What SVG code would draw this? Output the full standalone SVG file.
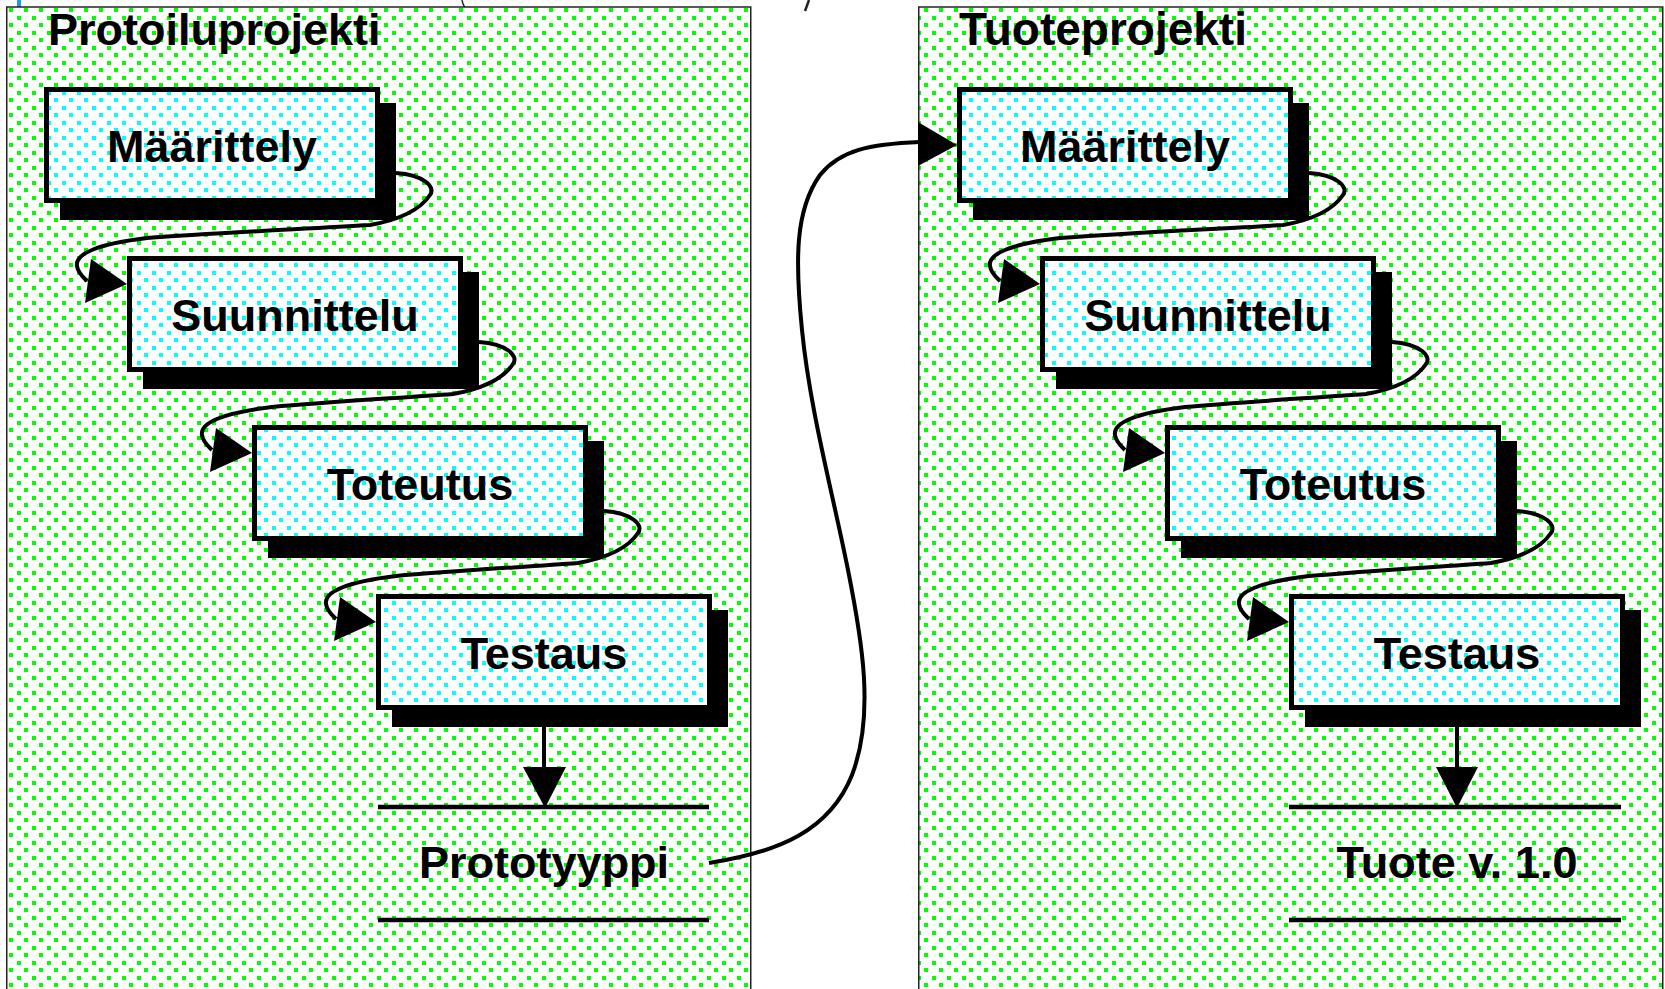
<svg xmlns="http://www.w3.org/2000/svg" width="1665" height="989" viewBox="0 0 1665 989">
<style>
.t{font-family:"Liberation Sans",Arial,sans-serif;font-weight:bold;font-size:45px;fill:#000}
.c{text-anchor:middle}
.box{fill:url(#cy);stroke:#000;stroke-width:5}
.sh{fill:#000}
.ln{fill:none;stroke:#000;stroke-width:4}
.ah{fill:#000}
.panel{fill:url(#gr);stroke:#222;stroke-width:1.5}
</style>
<defs>
<pattern id="gr" x="9" y="8" width="15" height="15" patternUnits="userSpaceOnUse">
<rect width="15" height="15" fill="#fff"/>
<rect width="4" height="4" fill="#00ff00" shape-rendering="crispEdges"/>
<rect x="8" y="8" width="4" height="4" fill="#00ff00" shape-rendering="crispEdges"/>
</pattern>
<pattern id="cy" x="9" y="8" width="15" height="15" patternUnits="userSpaceOnUse">
<rect width="15" height="15" fill="#fff"/>
<rect width="4" height="4" fill="#00ffff" shape-rendering="crispEdges"/>
<rect x="8" y="8" width="4" height="4" fill="#00ffff" shape-rendering="crispEdges"/>
</pattern>
</defs>
<rect width="1665" height="989" fill="#fff"/>
<rect x="17" y="0" width="4" height="7" fill="#1e9be0"/>
<path d="M462,0 Q463,6 467,10" fill="none" stroke="#222" stroke-width="1.5"/>
<path d="M809,0 L805,11" fill="none" stroke="#222" stroke-width="2.5"/>

<g id="panel-protoiluprojekti">
<rect class="panel" x="6.75" y="7" width="744" height="1000"/>
<text class="t" x="48" y="45">Protoiluprojekti</text>
</g>
<g id="panel-tuoteprojekti">
<rect class="panel" x="918.75" y="7" width="744" height="1000"/>
<text class="t" x="959" y="45" style="font-size:46px">Tuoteprojekti</text>
</g>

<g id="connectors">
<path class="ln" d="M396,173 C424,175 436,187 430,195 C422,207 404,219 370,225 C303,229 214,233 147,238 C97,244 75,254 77,266 C78,273 83,277 87,281"/>
<polygon class="ah" points="91,259 85,303 127,284"/>
<path class="ln" d="M479,342 C507,344 519,356 513,364 C505,376 487,388 453,394 C399,398 326,402 272,407 C222,413 200,423 202,435 C203,442 208,446 212,450"/>
<polygon class="ah" points="216,428 210,472 252,453"/>
<path class="ln" d="M604,511 C632,513 644,525 638,533 C630,545 612,557 578,563 C524,567 450,571 396,576 C346,582 324,592 326,604 C327,611 332,615 336,619"/>
<polygon class="ah" points="340,597 334,641 376,622"/>
<line class="ln" x1="544" y1="725" x2="544" y2="770"/>
<polygon class="ah" points="523,767 566,767 545,808"/>

<path class="ln" d="M1309,173 C1337,175 1349,187 1343,195 C1335,207 1317,219 1283,225 C1216,229 1127,233 1060,238 C1010,244 988,254 990,266 C991,273 996,277 1000,281"/>
<polygon class="ah" points="1004,259 998,303 1040,284"/>
<path class="ln" d="M1392,342 C1420,344 1432,356 1426,364 C1418,376 1400,388 1366,394 C1312,398 1239,402 1185,407 C1135,413 1113,423 1115,435 C1116,442 1121,446 1125,450"/>
<polygon class="ah" points="1129,428 1123,472 1165,453"/>
<path class="ln" d="M1517,511 C1545,513 1557,525 1551,533 C1543,545 1525,557 1491,563 C1437,567 1363,571 1309,576 C1259,582 1237,592 1239,604 C1240,611 1245,615 1249,619"/>
<polygon class="ah" points="1253,597 1247,641 1289,622"/>
<line class="ln" x1="1457" y1="725" x2="1457" y2="770"/>
<polygon class="ah" points="1436,767 1478,767 1457,808"/>

<path class="ln" d="M709,863 C780,852 830,830 852,775 C875,715 862,640 848,570 C832,490 810,410 802,330 C795,260 795,210 820,175 C840,150 870,144 920,142"/>
<polygon class="ah" points="918,122 918,166 957,145"/>
</g>

<g id="p-maarittely">
<rect class="sh" x="60" y="103" width="336" height="117"/>
<rect class="box" x="46.5" y="89.5" width="331" height="111"/>
<text class="t c" x="212" y="162">Määrittely</text>
</g>
<g id="p-suunnittelu">
<rect class="sh" x="143" y="272" width="336" height="117"/>
<rect class="box" x="129.5" y="258.5" width="331" height="111"/>
<text class="t c" x="295" y="331">Suunnittelu</text>
</g>
<g id="p-toteutus">
<rect class="sh" x="268" y="441" width="336" height="117"/>
<rect class="box" x="254.5" y="427.5" width="331" height="111"/>
<text class="t c" x="420" y="500">Toteutus</text>
</g>
<g id="p-testaus">
<rect class="sh" x="392" y="610" width="336" height="117"/>
<rect class="box" x="378.5" y="596.5" width="331" height="111"/>
<text class="t c" x="544" y="669">Testaus</text>
</g>
<g id="p-prototyyppi">
<line x1="378" y1="807" x2="709" y2="807" stroke="#000" stroke-width="4.5"/>
<text class="t c" x="544" y="878">Prototyyppi</text>
<line x1="378" y1="920" x2="709" y2="920" stroke="#000" stroke-width="4.5"/>
</g>

<g id="t-maarittely">
<rect class="sh" x="973" y="103" width="336" height="117"/>
<rect class="box" x="959.5" y="89.5" width="331" height="111"/>
<text class="t c" x="1125" y="162">Määrittely</text>
</g>
<g id="t-suunnittelu">
<rect class="sh" x="1056" y="272" width="336" height="117"/>
<rect class="box" x="1042.5" y="258.5" width="331" height="111"/>
<text class="t c" x="1208" y="331">Suunnittelu</text>
</g>
<g id="t-toteutus">
<rect class="sh" x="1181" y="441" width="336" height="117"/>
<rect class="box" x="1167.5" y="427.5" width="331" height="111"/>
<text class="t c" x="1333" y="500">Toteutus</text>
</g>
<g id="t-testaus">
<rect class="sh" x="1305" y="610" width="336" height="117"/>
<rect class="box" x="1291.5" y="596.5" width="331" height="111"/>
<text class="t c" x="1457" y="669">Testaus</text>
</g>
<g id="t-tuote">
<line x1="1289" y1="807" x2="1621" y2="807" stroke="#000" stroke-width="4.5"/>
<text class="t c" x="1457" y="878">Tuote v. 1.0</text>
<line x1="1289" y1="920" x2="1621" y2="920" stroke="#000" stroke-width="4.5"/>
</g>
</svg>
